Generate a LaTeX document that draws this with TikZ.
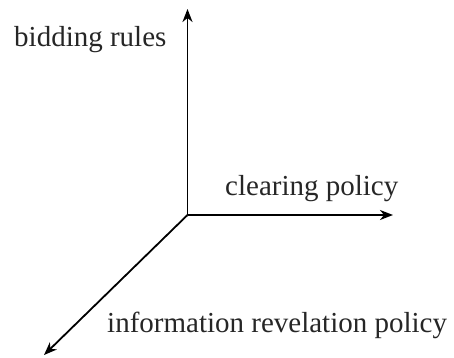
\documentclass[tikz,border=0pt]{standalone}
\usepackage{fontspec}
\setmainfont{Liberation Serif}
\usetikzlibrary{arrows.meta}
\begin{document}
\begin{tikzpicture}[x=1pt,y=1pt,
  axis/.style={line width=1.8pt,-{Stealth[length=13pt,width=10pt,inset=4pt]}},
  lbl/.style={anchor=base west,inner sep=0pt,font=\fontsize{29}{34}\selectfont,text=black!85}]
\useasboundingbox (0,0) rectangle (454,357);
\coordinate (O) at (187.5,142);
\coordinate (U) at (187.5,348);
\coordinate (R) at (393,142);
\coordinate (D) at (44,2);
\draw[axis] (O) -- (U);
\draw[axis] (O) -- (R);
\draw[axis] (O) -- (D);
\node[lbl] (bid) at (14,310) {bidding rules};
\node[lbl] (clr) at (225,162) {clearing policy};
\node[lbl] (inf) at (107,25) {information revelation policy};
\end{tikzpicture}
\end{document}
